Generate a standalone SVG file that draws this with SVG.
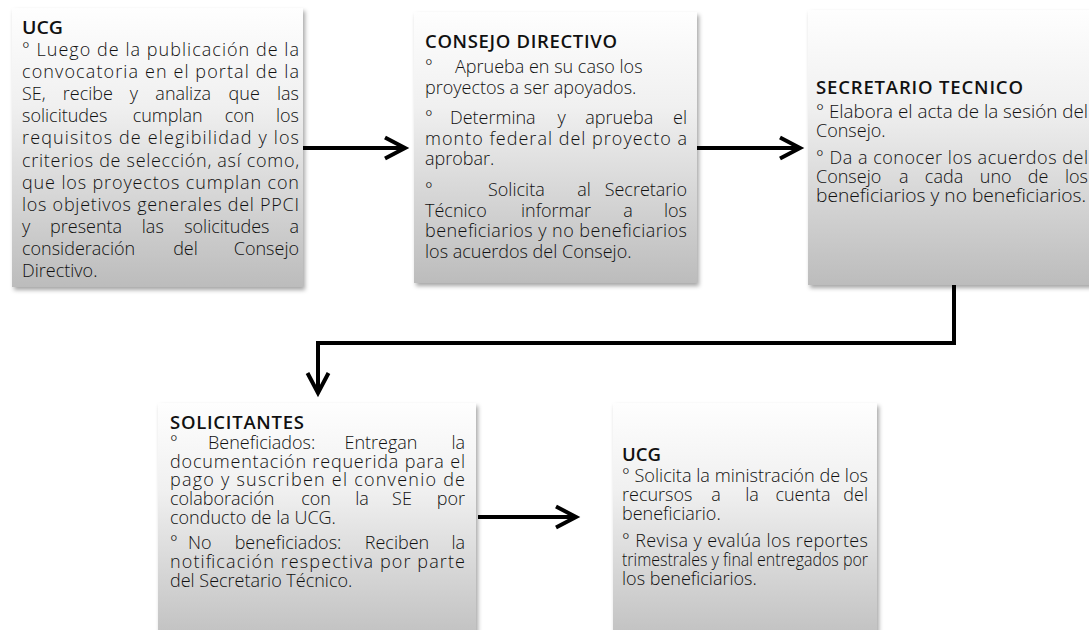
<svg xmlns="http://www.w3.org/2000/svg" width="1089" height="630" viewBox="0 0 1089 630">
<defs>
<linearGradient id="g" x1="0" y1="0" x2="0" y2="1">
<stop offset="0" stop-color="#fefefe"/>
<stop offset="0.35" stop-color="#f0f0f0"/>
<stop offset="1" stop-color="#bcbcbc"/>
</linearGradient>
<filter id="sh" x="-5%" y="-5%" width="115%" height="115%">
<feDropShadow dx="2" dy="3" stdDeviation="2" flood-color="#000" flood-opacity="0.35"/>
</filter>
<marker id="ah" viewBox="-2 -2 26 27" refX="20" refY="10.5" markerWidth="26" markerHeight="27" markerUnits="userSpaceOnUse" orient="auto" overflow="visible">
<path d="M0,0 L20,10.5 L0,21" fill="none" stroke="#000" stroke-width="4" stroke-linejoin="miter"/>
</marker>
<style>
.box{fill:url(#g);filter:url(#sh)}
.t{font-family:"Open Sans","Noto Sans",sans-serif;font-weight:600;font-size:18.5px;fill:#111}
.b{font-family:"Open Sans","Noto Sans",sans-serif;font-weight:300;font-size:18px;fill:#111}
.m{text-anchor:middle}
.e{text-anchor:end}
.c{fill:none;stroke:#000;stroke-width:4}
</style>
</defs>
<g id="connectors">
<path class="c" d="M303,148 H405" marker-end="url(#ah)"/>
<path class="c" d="M697,148 H800" marker-end="url(#ah)"/>
<path class="c" d="M954,285 V343 H318 V393" marker-end="url(#ah)"/>
<path class="c" d="M478,517 H576" marker-end="url(#ah)"/>
</g>
<g id="ucg1">
<rect class="box" x="12" y="8" width="291" height="279"/>
<text class="t" x="22" y="34" textLength="41" lengthAdjust="spacingAndGlyphs">UCG</text>
<text class="b" x="22" y="56" textLength="277" lengthAdjust="spacing">° Luego de la publicación de la</text>
<text class="b" x="22" y="78" textLength="277" lengthAdjust="spacing">convocatoria en el portal de la</text>
<text class="b" x="22" y="100">SE,</text>
<text class="b m" x="87.8" y="100">recibe</text>
<text class="b m" x="133.8" y="100">y</text>
<text class="b m" x="183.2" y="100">analiza</text>
<text class="b m" x="244.2" y="100">que</text>
<text class="b e" x="299" y="100">las</text>
<text class="b" x="22" y="122">solicitudes</text>
<text class="b m" x="167.7" y="122">cumplan</text>
<text class="b m" x="239.6" y="122">con</text>
<text class="b e" x="299" y="122">los</text>
<text class="b" x="22" y="144" textLength="277" lengthAdjust="spacing">requisitos de elegibilidad y los</text>
<text class="b" x="22" y="166.5" textLength="277" lengthAdjust="spacing">criterios de selección, así como,</text>
<text class="b" x="22" y="188.5" textLength="277" lengthAdjust="spacing">que los proyectos cumplan con</text>
<text class="b" x="22" y="210.5" textLength="277" lengthAdjust="spacing">los objetivos generales del PPCI</text>
<text class="b" x="22" y="233">y</text>
<text class="b m" x="86.1" y="233">presenta</text>
<text class="b m" x="152.8" y="233">las</text>
<text class="b m" x="226.8" y="233">solicitudes</text>
<text class="b e" x="299" y="233">a</text>
<text class="b" x="22" y="255">consideración</text>
<text class="b m" x="185.5" y="255">del</text>
<text class="b e" x="299" y="255">Consejo</text>
<text class="b" x="22" y="277">Directivo.</text>
</g>
<g id="consejo">
<rect class="box" x="414" y="12" width="283" height="271"/>
<text class="t" x="425" y="48" textLength="192" lengthAdjust="spacing">CONSEJO DIRECTIVO</text>
<text class="b" x="425" y="72.5">°</text>
<text class="b" x="455" y="72.5">Aprueba en su caso los</text>
<text class="b" x="425" y="93.5">proyectos a ser apoyados.</text>
<text class="b" x="425" y="123.5">°</text>
<text class="b" x="450" y="123.5">Determina</text>
<text class="b m" x="561.7" y="123.5">y</text>
<text class="b m" x="619.2" y="123.5">aprueba</text>
<text class="b e" x="687" y="123.5">el</text>
<text class="b" x="425" y="144.5" textLength="262" lengthAdjust="spacing">monto federal del proyecto a</text>
<text class="b" x="425" y="164.5">aprobar.</text>
<text class="b" x="425" y="195.5">°</text>
<text class="b" x="488" y="195.5">Solicita</text>
<text class="b m" x="584" y="195.5">al</text>
<text class="b e" x="687" y="195.5">Secretario</text>
<text class="b" x="425" y="216.5">Técnico</text>
<text class="b m" x="556" y="216.5">informar</text>
<text class="b m" x="628" y="216.5">a</text>
<text class="b e" x="687" y="216.5">los</text>
<text class="b" x="425" y="236.5" textLength="262" lengthAdjust="spacing">beneficiarios y no beneficiarios</text>
<text class="b" x="425" y="257.5">los acuerdos del Consejo.</text>
</g>
<g id="secretario">
<rect class="box" x="808" y="10" width="300" height="275"/>
<text class="t" x="816" y="94" textLength="207" lengthAdjust="spacing">SECRETARIO TECNICO</text>
<text class="b" x="816" y="117.5" textLength="272" lengthAdjust="spacingAndGlyphs">° Elabora el acta de la sesión del</text>
<text class="b" x="816" y="136.5">Consejo.</text>
<text class="b" x="816" y="163.5" textLength="272" lengthAdjust="spacing">° Da a conocer los acuerdos del</text>
<text class="b" x="816" y="182.5">Consejo</text>
<text class="b m" x="903.8" y="182.5">a</text>
<text class="b m" x="944" y="182.5">cada</text>
<text class="b m" x="995.7" y="182.5">uno</text>
<text class="b m" x="1038" y="182.5">de</text>
<text class="b e" x="1088" y="182.5">los</text>
<text class="b" x="816" y="201.5" textLength="270" lengthAdjust="spacingAndGlyphs">beneficiarios y no beneficiarios.</text>
</g>
<g id="solicitantes">
<rect class="box" x="158" y="403" width="318" height="250"/>
<text class="t" x="170" y="429" textLength="134" lengthAdjust="spacing">SOLICITANTES</text>
<text class="b" x="170" y="448.5">°</text>
<text class="b" x="208" y="448.5">Beneficiados:</text>
<text class="b m" x="381" y="448.5">Entregan</text>
<text class="b e" x="465" y="448.5">la</text>
<text class="b" x="170" y="467.5" textLength="295" lengthAdjust="spacing">documentación requerida para el</text>
<text class="b" x="170" y="486" textLength="295" lengthAdjust="spacing">pago y suscriben el convenio de</text>
<text class="b" x="170" y="504.5">colaboración</text>
<text class="b m" x="316" y="504.5">con</text>
<text class="b m" x="362" y="504.5">la</text>
<text class="b m" x="402" y="504.5">SE</text>
<text class="b e" x="465" y="504.5">por</text>
<text class="b" x="170" y="523.5">conducto de la UCG.</text>
<text class="b" x="170" y="548.5">°</text>
<text class="b" x="188" y="548.5">No</text>
<text class="b m" x="288" y="548.5">beneficiados:</text>
<text class="b m" x="397" y="548.5">Reciben</text>
<text class="b e" x="465" y="548.5">la</text>
<text class="b" x="170" y="567.5" textLength="295" lengthAdjust="spacing">notificación respectiva por parte</text>
<text class="b" x="170" y="586.5">del Secretario Técnico.</text>
</g>
<g id="ucg2">
<rect class="box" x="613" y="403" width="264" height="250"/>
<text class="t" x="622" y="461" textLength="39" lengthAdjust="spacingAndGlyphs">UCG</text>
<text class="b" x="622" y="481.5" textLength="246" lengthAdjust="spacingAndGlyphs">° Solicita la ministración de los</text>
<text class="b" x="622" y="501">recursos</text>
<text class="b m" x="716" y="501">a</text>
<text class="b m" x="752" y="501">la</text>
<text class="b m" x="803" y="501">cuenta</text>
<text class="b e" x="868" y="501">del</text>
<text class="b" x="622" y="520">beneficiario.</text>
<text class="b" x="622" y="547" textLength="246" lengthAdjust="spacing">° Revisa y evalúa los reportes</text>
<text class="b" x="622" y="566" textLength="246" lengthAdjust="spacingAndGlyphs">trimestrales y final entregados por</text>
<text class="b" x="622" y="585">los beneficiarios.</text>
</g>
</svg>
